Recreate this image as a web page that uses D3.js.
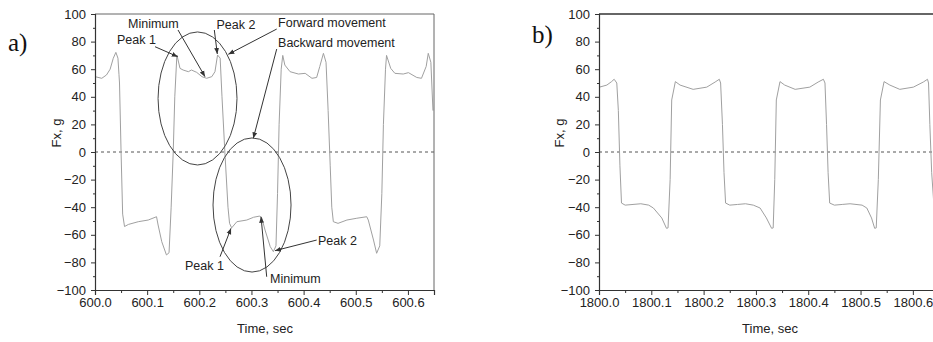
<!DOCTYPE html>
<html><head><meta charset="utf-8">
<script src="https://cdn.jsdelivr.net/npm/d3@7"></script>
<style>
html,body{margin:0;padding:0;background:#fff;}
</style></head>
<body><svg id="c" width="933" height="342"></svg>
<script>
// ---- Panel a) data (time, sec / Fx, g) ----
const timeA = [
 600.000,600.013,600.022,600.029,600.035,600.040,600.044,600.046,600.047,600.050,600.053,600.0566,
 600.064,600.083,600.102,600.118,600.121,600.128,600.137,600.142,600.146,600.150,600.153,600.157,
 600.163,600.169,600.179,600.185,600.195,600.205,600.214,600.224,600.230,600.235,600.240,600.2435,600.249,600.255,600.258,600.262,
 600.272,600.291,600.304,600.316,600.320,600.326,600.336,600.342,600.347,600.350,600.353,600.357,600.360,
 600.364,600.374,600.390,600.403,600.416,600.425,600.431,600.438,600.443,600.447,600.451,600.454,600.457,600.466,
 600.483,600.502,600.521,600.524,600.534,600.540,600.546,600.550,600.553,600.557,600.559,
 600.567,600.575,600.591,600.601,600.617,600.626,600.635,600.639,600.644,600.648
];
const forceA = [
 54.6,53.4,55.8,60,67.9,72.2,68,56,50,0,-45,-54,
 -52.5,-50.5,-49.3,-46.9,-52.9,-65,-74.6,-73,-40,0,40,70.3,
 60.6,59.4,58.2,59.4,57.7,54.6,53.4,54.6,58.2,70.3,68,40,0,-40,-51.7,-55,
 -50.5,-49.3,-47.3,-46.4,-48,-56.5,-68.6,-72.2,-68,-30,20,60,70,
 63,58.2,56.5,57,53.4,54,62,71.5,65,30,-10,-40,-50.5,-51.7,
 -49.3,-48,-46.9,-49.3,-63.8,-73.4,-68,-30,20,60,70,
 60.6,57,56.5,57.5,54,53.4,62,71.5,65,30
];
// ---- Panel b) data ----
const timeB = [
 1800.000,1800.015,1800.024,1800.029,1800.034,1800.037,1800.040,1800.043,
 1800.050,1800.065,1800.080,1800.095,1800.104,1800.120,1800.129,1800.132,1800.136,1800.139,1800.146,
 1800.155,1800.180,1800.206,1800.222,1800.230,1800.2325,1800.236,1800.239,1800.242,
 1800.250,1800.265,1800.280,1800.295,1800.308,1800.320,1800.330,1800.333,1800.336,1800.339,1800.346,
 1800.355,1800.375,1800.403,1800.419,1800.429,1800.432,1800.435,1800.438,1800.441,
 1800.450,1800.465,1800.480,1800.503,1800.512,1800.521,1800.527,1800.530,1800.534,1800.538,1800.545,
 1800.556,1800.575,1800.601,1800.620,1800.628,1800.630,1800.6325,1800.636,1800.640
];
const forceB = [
 46.9,48.5,51,52.7,50,30,-10,-37,
 -38.5,-38,-37.5,-38.5,-40.6,-47.8,-55.3,-55,-20,37.7,51,
 48.5,45.4,47,50.7,52.7,50,20,-15,-37,
 -38.5,-38,-37.5,-38.5,-40.6,-47.8,-55.3,-55,-20,37.7,51,
 48.5,45.4,47,50.7,52.7,50,20,-15,-37,
 -38.5,-38,-37.5,-38.5,-40.6,-47.8,-55.3,-55,-20,37.7,51,
 48.5,45.4,47,50.7,52.7,50,20,-15,-37
];
const yTicks = [-100,-80,-60,-40,-20,0,20,40,60,80,100];
const yMinor = [-90,-70,-50,-30,-10,10,30,50,70,90];
const xTicksA = [600.0,600.1,600.2,600.3,600.4,600.5,600.6];
const xMinorA = [600.05,600.15,600.25,600.35,600.45,600.55,600.65];
const xTicksB = [1800.0,1800.1,1800.2,1800.3,1800.4,1800.5,1800.6];
const xMinorB = [1800.05,1800.15,1800.25,1800.35,1800.45,1800.55,1800.65];
const yTitle = "Fx, g";
const xTitle = "Time, sec";

// annotations of panel a) in data units
const annoTexts = [
 {t:600.0633,v:89.9,s:"Minimum"},
 {t:600.0422,v:78.3,s:"Peak 1"},
 {t:600.2330,v:89.1,s:"Peak 2"},
 {t:600.3510,v:90.6,s:"Forward movement"},
 {t:600.3510,v:76.1,s:"Backward movement"},
 {t:600.1726,v:-85.5,s:"Peak 1"},
 {t:600.3356,v:-94.9,s:"Minimum"},
 {t:600.4276,v:-67.4,s:"Peak 2"}
];
const annoArrows = [
 [600.1592,88.4,600.2109,54.6],
 [600.1151,76.3,600.1586,69.1],
 [600.2288,88.4,600.2345,71.0],
 [600.3484,89.1,600.2556,70.8],
 [600.3484,74.6,600.3035,9.9],
 [600.2397,-75.9,600.2608,-55.3],
 [600.3292,-90.4,600.3183,-46.9],
 [600.4251,-63.8,600.3452,-71.5]
];
const annoEllipses = [
 {t:600.1966,v:38.8,rt:0.0757,rv:48.2},
 {t:600.3011,v:-38.4,rt:0.0748,rv:48.6}
];

const SANS = "'Liberation Sans',Arial,sans-serif";
const SERIF = "'Liberation Serif','Times New Roman',serif";
const svg = d3.select("#c");
const defs = svg.append("defs");
defs.append("marker").attr("id","ah").attr("viewBox","0 0 10 10")
  .attr("refX",10).attr("refY",5).attr("markerWidth",6).attr("markerHeight",6)
  .attr("markerUnits","userSpaceOnUse").attr("orient","auto")
  .append("path").attr("d","M0,1 L10,5 L0,9 Z").attr("fill","#333");

function panel(opt){
  const g = svg.append("g");
  const x = d3.scaleLinear().domain(opt.xDomain).range(opt.xRange);
  const y = d3.scaleLinear().domain([-100,100]).range([290,14]);
  g.append("line").attr("x1",opt.xRange[0]).attr("x2",opt.xRange[1])
    .attr("y1",y(0)).attr("y2",y(0)).attr("stroke","#555").attr("stroke-width",1)
    .attr("stroke-dasharray","3,3");
  const data = opt.t.map((t,i)=>[t,opt.f[i]]);
  g.append("path").datum(data)
    .attr("d",d3.line().x(d=>x(d[0])).y(d=>y(d[1])))
    .attr("fill","none").attr("stroke","#a0a0a0").attr("stroke-width",1);
  g.append("line").attr("x1",opt.xRange[0]).attr("x2",opt.xRange[1]).attr("y1",14).attr("y2",14)
    .attr("stroke",opt.frameColor).attr("stroke-width",opt.frameW);
  g.append("line").attr("x1",opt.xRange[1]).attr("x2",opt.xRange[1]).attr("y1",14).attr("y2",290)
    .attr("stroke",opt.frameColor).attr("stroke-width",opt.frameW);
  g.append("g").attr("transform",`translate(${opt.xRange[0]},0)`)
    .call(d3.axisLeft(y).tickValues(yTicks).tickSize(4).tickPadding(5).tickFormat(d3.format("d")));
  g.append("g").attr("transform",`translate(${opt.xRange[0]},0)`)
    .call(d3.axisLeft(y).tickValues(yMinor).tickSize(2).tickFormat(""))
    .call(a=>a.select(".domain").remove());
  g.append("g").attr("transform","translate(0,290)")
    .call(d3.axisBottom(x).tickValues(opt.xTicks).tickSize(5).tickPadding(3).tickFormat(d3.format(".1f")));
  g.append("g").attr("transform","translate(0,290)")
    .call(d3.axisBottom(x).tickValues(opt.xMinor).tickSize(3).tickFormat(""))
    .call(a=>a.select(".domain").remove());
  g.selectAll(".domain").attr("stroke","#333").attr("stroke-width",1.2);
  g.selectAll(".tick line").attr("stroke","#333");
  g.selectAll(".tick text").attr("fill","#222")
    .style("font-size","13px").style("font-family",SANS);
  g.append("text").attr("transform",`translate(${opt.yTitleX},133) rotate(-90)`)
    .attr("text-anchor","middle").attr("fill","#222")
    .style("font-size","13px").style("font-family",SANS).text(yTitle);
  g.append("text").attr("x",opt.titleX).attr("y",333)
    .attr("text-anchor","middle").attr("fill","#222")
    .style("font-size","13px").style("font-family",SANS).text(xTitle);
  g.append("text").attr("x",opt.labX).attr("y",opt.labY).attr("fill","#111")
    .style("font-family",SERIF).style("font-size","25px").text(opt.label);
  return {g,x,y};
}

const A = panel({t:timeA,f:forceA,xDomain:[600.0,600.65],xRange:[95,434],
  xTicks:xTicksA,xMinor:xMinorA,yTitleX:61,titleX:265,label:"a)",labX:8,labY:51,
  frameColor:"#666",frameW:1});
const B = panel({t:timeB,f:forceB,xDomain:[1800.0,1800.65],xRange:[599,939],
  xTicks:xTicksB,xMinor:xMinorB,yTitleX:564,titleX:770,label:"b)",labX:532,labY:43,
  frameColor:"#333",frameW:1.5});

const ag = A.g.append("g");
ag.selectAll("ellipse").data(annoEllipses).join("ellipse")
  .attr("cx",d=>A.x(d.t)).attr("cy",d=>A.y(d.v))
  .attr("rx",d=>A.x(d.t+d.rt)-A.x(d.t)).attr("ry",d=>A.y(d.v-d.rv)-A.y(d.v))
  .attr("fill","none").attr("stroke","#444").attr("stroke-width",1);
ag.selectAll("line.arr").data(annoArrows).join("line").attr("class","arr")
  .attr("x1",d=>A.x(d[0])).attr("y1",d=>A.y(d[1]))
  .attr("x2",d=>A.x(d[2])).attr("y2",d=>A.y(d[3]))
  .attr("stroke","#333").attr("stroke-width",1).attr("marker-end","url(#ah)");
ag.selectAll("text.an").data(annoTexts).join("text").attr("class","an")
  .attr("x",d=>A.x(d.t)).attr("y",d=>A.y(d.v)).attr("fill","#222")
  .style("font-size","12.5px").style("font-family",SANS).text(d=>d.s);
</script></body></html>
